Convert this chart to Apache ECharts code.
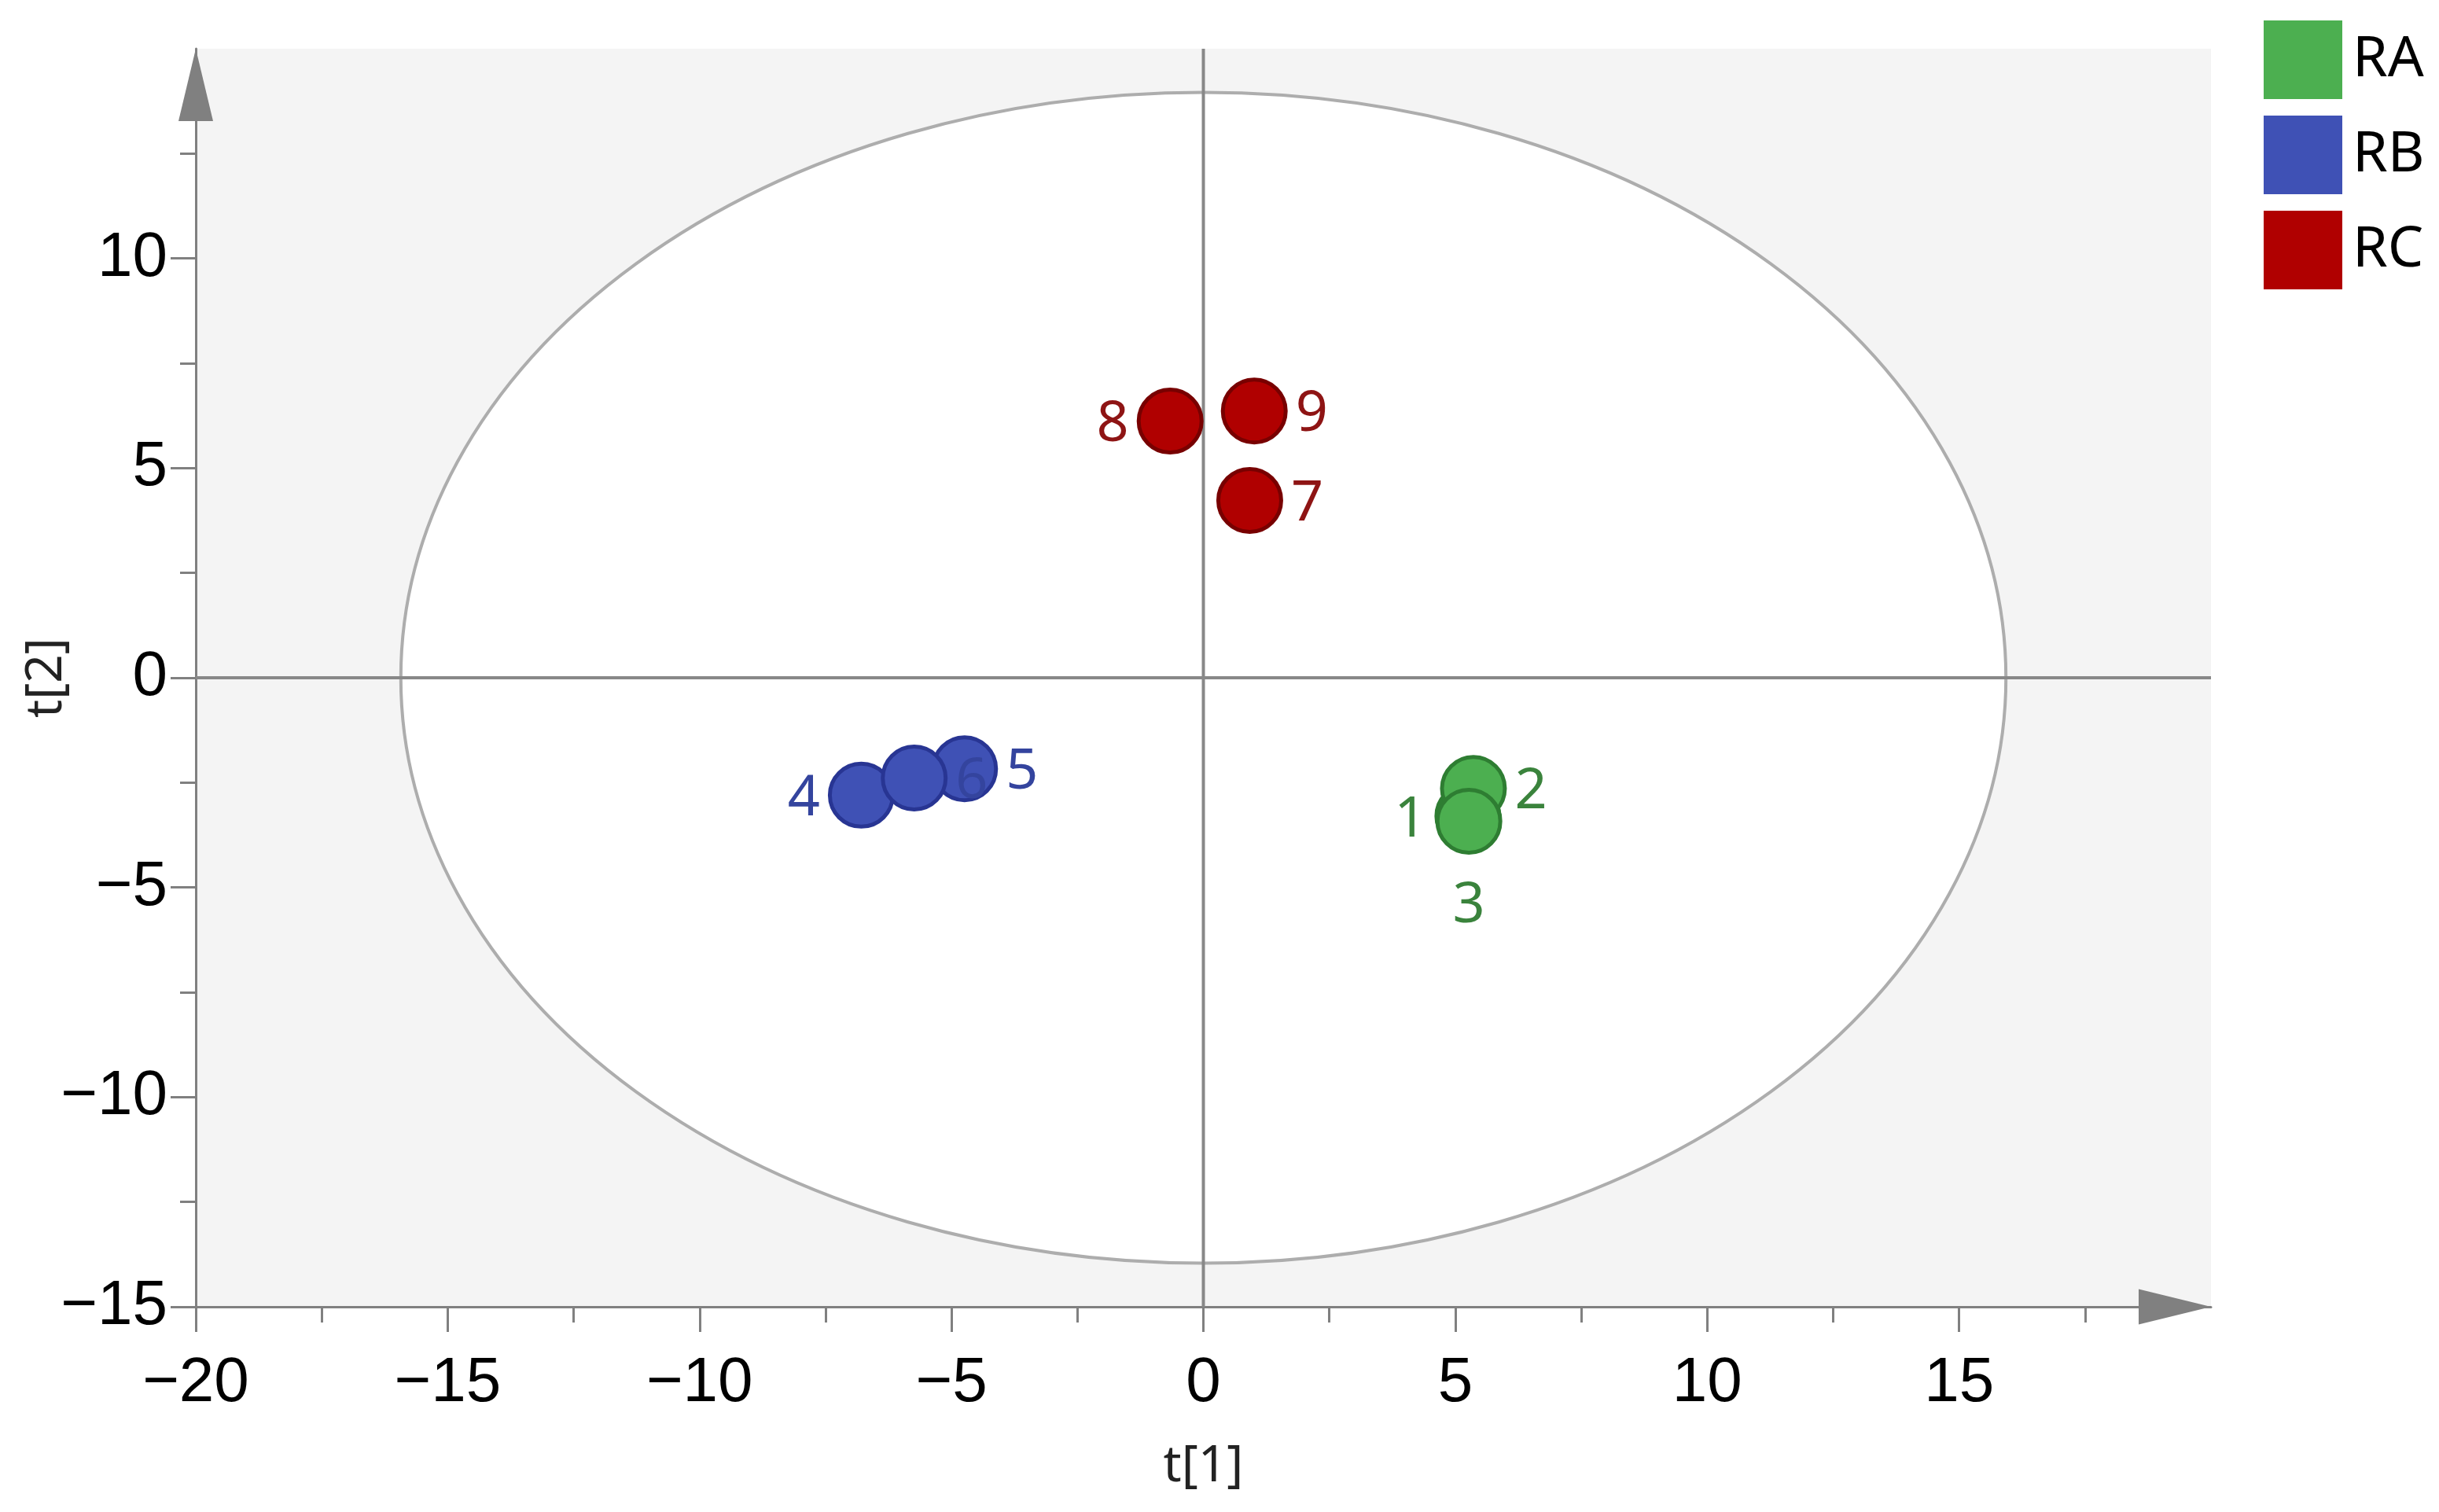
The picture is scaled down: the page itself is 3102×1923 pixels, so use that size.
<!DOCTYPE html>
<html>
<head>
<meta charset="utf-8">
<script src="https://cdn.jsdelivr.net/npm/echarts@6/dist/echarts.min.js"></script>
<style>
html, body { margin: 0; padding: 0; background: #fff; }
#chart { width: 3102px; height: 1923px; }
</style>
</head>
<body>
<div id="chart"></div>
<script>
// groups and sample scores
var groups = ['RA', 'RB', 'RC'];

var raIds = ['1', '2', '3'];
var raT1 = [5.25, 5.36, 5.27];
var raT2 = [-3.30, -2.64, -3.42];

var rbIds = ['4', '5', '6'];
var rbT1 = [-6.79, -4.74, -5.74];
var rbT2 = [-2.80, -2.17, -2.39];

var rcIds = ['7', '8', '9'];
var rcT1 = [0.92, -0.66, 1.01];
var rcT2 = [4.23, 6.12, 6.36];

// Hotelling ellipse semi-axes (t[1], t[2])
var ellipseAxes = [15.93, 13.96];

var xTicks = [-20, -15, -10, -5, 0, 5, 10, 15];
var yTicks = [-15, -10, -5, 0, 5, 10];

// label placement per sample
var labelSide = { '1': 'left', '2': 'right', '3': 'bottom', '4': 'left', '5': 'right', '6': 'right', '7': 'right', '8': 'left', '9': 'right' };

var fills = ['#4CAF50', '#3F51B5', '#B00000'];
var borders = ['#2E7D32', '#283593', '#780000'];
var labelColors = ['#3A833C', '#34449E', '#8E1414'];

var axisGray = '#808080';
var tickFont = '"Liberation Sans", Arial, sans-serif';
var textFont = '"Noto Sans", "Open Sans", sans-serif';

function buildPoints(ids, t1, t2) {
    var out = [];
    for (var i = 0; i < ids.length; i++) {
        var side = labelSide[ids[i]];
        out.push({
            value: [t1[i], t2[i]],
            name: ids[i],
            label: {
                position: side,
                distance: side === 'bottom' ? 30 : 10,
                offset: side === 'bottom' ? [0, 0] : [0, 5]
            }
        });
    }
    return out;
}

function fmt(v) {
    return String(v).replace('-', '\u2212');
}

var myChart = echarts.init(document.getElementById('chart'));

var scatterSeries = [
    [raIds, raT1, raT2],
    [rbIds, rbT1, rbT2],
    [rcIds, rcT1, rcT2]
].map(function (g, k) {
    return {
        name: groups[k],
        type: 'scatter',
        z: 3,
        symbol: 'circle',
        symbolSize: 80,
        itemStyle: { color: fills[k], borderColor: borders[k], borderWidth: 5, opacity: 1 },
        label: {
            show: true,
            formatter: '{b}',
            fontSize: 72,
            fontFamily: textFont,
            color: labelColors[k]
        },
        data: buildPoints(g[0], g[1], g[2])
    };
});

var option = {
    animation: false,
    backgroundColor: '#fff',
    legend: {
        data: groups,
        orient: 'vertical',
        left: 2874,
        top: 21,
        itemWidth: 100,
        itemHeight: 100,
        itemGap: 21,
        icon: 'rect',
        itemStyle: { borderWidth: 0 },
        textStyle: { fontSize: 72, fontFamily: textFont, color: '#000', padding: [0, 0, 0, 8] }
    },
    grid: {
        left: 249,
        right: 290,
        top: 62,
        bottom: 261,
        show: true,
        backgroundColor: '#f4f4f4',
        borderWidth: 0
    },
    xAxis: {
        type: 'value',
        min: xTicks[0],
        max: 20,
        interval: 5,
        name: 't[1]',
        nameLocation: 'middle',
        nameGap: 172,
        nameMoveOverlap: false,
        nameTextStyle: { fontSize: 64, fontFamily: textFont, color: '#222' },
        axisLine: {
            show: true,
            onZero: false,
            symbol: ['none', 'triangle'],
            symbolSize: [45, 92],
            symbolOffset: [0, -46],
            lineStyle: { color: axisGray, width: 3 }
        },
        axisTick: { show: true, customValues: xTicks, length: 32, lineStyle: { color: axisGray, width: 3 } },
        minorTick: { show: true, splitNumber: 2, length: 20, lineStyle: { color: axisGray, width: 3 } },
        splitLine: { show: false },
        axisLabel: {
            fontSize: 80,
            fontFamily: tickFont,
            color: '#000',
            margin: 58,
            formatter: function (v) { return xTicks.indexOf(v) >= 0 ? fmt(v) : ''; }
        }
    },
    yAxis: {
        type: 'value',
        min: yTicks[0],
        max: 15,
        interval: 5,
        name: 't[2]',
        nameLocation: 'middle',
        nameGap: 157,
        nameMoveOverlap: false,
        nameTextStyle: { fontSize: 64, fontFamily: textFont, color: '#222' },
        axisLine: {
            show: true,
            onZero: false,
            symbol: ['none', 'triangle'],
            symbolSize: [44, 92],
            symbolOffset: [0, -46],
            lineStyle: { color: axisGray, width: 3 }
        },
        axisTick: { show: true, customValues: yTicks, length: 32, lineStyle: { color: axisGray, width: 3 } },
        minorTick: { show: true, splitNumber: 2, length: 20, lineStyle: { color: axisGray, width: 3 } },
        splitLine: { show: false },
        axisLabel: {
            fontSize: 80,
            fontFamily: tickFont,
            color: '#000',
            margin: 36,
            formatter: function (v) { return yTicks.indexOf(v) >= 0 ? fmt(v) : ''; }
        }
    },
    series: [
        {
            type: 'custom',
            z: 1,
            silent: true,
            clip: false,
            data: [[0, 0, ellipseAxes[0], ellipseAxes[1]]],
            renderItem: function (params, api) {
                var c = api.coord([api.value(0), api.value(1)]);
                var rx = api.size([api.value(2), 0])[0];
                var ry = api.size([0, api.value(3)])[1];
                var d = 'M ' + (c[0] - rx) + ' ' + c[1] +
                    ' A ' + rx + ' ' + ry + ' 0 1 1 ' + (c[0] + rx) + ' ' + c[1] +
                    ' A ' + rx + ' ' + ry + ' 0 1 1 ' + (c[0] - rx) + ' ' + c[1] + ' Z';
                var h0 = api.coord([-20, 0]);
                var h1 = api.coord([20, 0]);
                var v0 = api.coord([0, -15]);
                var v1 = api.coord([0, 15]);
                return {
                    type: 'group',
                    children: [
                        {
                            type: 'path',
                            shape: { pathData: d },
                            style: { fill: '#fff', stroke: '#adadad', lineWidth: 4 }
                        },
                        {
                            type: 'line',
                            shape: { x1: h0[0], y1: h0[1], x2: h1[0], y2: h1[1] },
                            style: { stroke: '#888888', lineWidth: 4 }
                        },
                        {
                            type: 'line',
                            shape: { x1: v0[0], y1: v0[1], x2: v1[0], y2: v1[1] },
                            style: { stroke: '#888888', lineWidth: 4 }
                        }
                    ]
                };
            }
        }
    ].concat(scatterSeries)
};

myChart.setOption(option);
window.addEventListener('resize', function () { myChart.resize(); });
</script>
</body>
</html>
